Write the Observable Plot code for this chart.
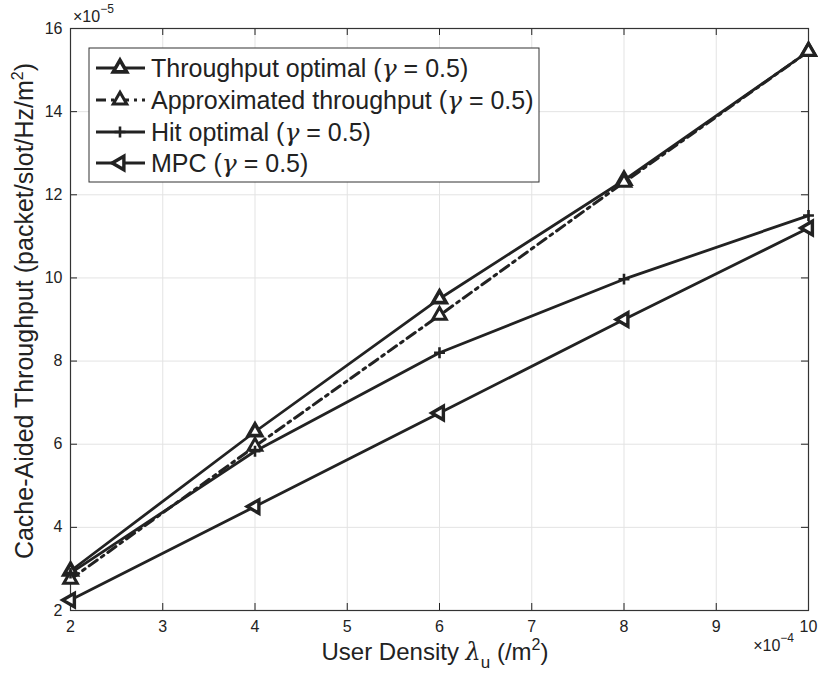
<!DOCTYPE html>
<html>
<head>
<meta charset="utf-8">
<script src="https://cdn.jsdelivr.net/npm/d3@7"></script>
<script src="https://cdn.jsdelivr.net/npm/@observablehq/plot@0.6"></script>
<style>
  html, body { margin: 0; padding: 0; background: #fff; }
  #chart svg { display: block; }
</style>
</head>
<body>
<div id="chart"></div>
<script>
// User density (×1e-4 per m²) and cache-aided throughput (×1e-5 packet/slot/Hz/m²)
const userDensity = [2, 4, 6, 8, 10];
const throughputOptimal = [2.95, 6.3, 9.5, 12.35, 15.45];
const approxThroughput = [2.75, 5.95, 9.1, 12.3, 15.45];
const hitOptimal = [2.9, 5.83, 8.2, 9.97, 11.5];
const mpc = [2.25, 4.5, 6.75, 9.0, 11.2];

const seriesNames = ["Throughput optimal", "Approximated throughput", "Hit optimal", "MPC"];
const xTicks = [2, 3, 4, 5, 6, 7, 8, 9, 10];
const yTicks = [2, 4, 6, 8, 10, 12, 14, 16];

const ink = "#222";
const font = "'Liberation Sans', Arial, Helvetica, sans-serif";
const mathFont = "'DejaVu Serif', 'Liberation Serif', serif";
const dashDot = "10,5,3,5";

// Triangle pointing left, same area convention as d3.symbolTriangle
const triangleLeft = {
  draw(context, size) {
    const s3 = Math.sqrt(3);
    const y = -Math.sqrt(size / (s3 * 3));
    context.moveTo(y * 2, 0);
    context.lineTo(-y, -s3 * y);
    context.lineTo(-y, s3 * y);
    context.closePath();
  }
};

const seriesValues = [throughputOptimal, approxThroughput, hitOptimal, mpc];
const rows = seriesValues.flatMap((vals, i) =>
  vals.map((v, j) => ({series: seriesNames[i], x: userDensity[j], y: v}))
);
const pick = (name) => rows.filter(d => d.series === name);

const W = 818, H = 686;
const mL = 70, mR = 10, mT = 28, mB = 76;
const frameW = W - mL - mR, frameH = H - mT - mB;
const tickLen = 7;

const plot = Plot.plot({
  width: W,
  height: H,
  marginLeft: mL,
  marginRight: mR,
  marginTop: mT,
  marginBottom: mB,
  style: {fontFamily: font, fontSize: "16px", color: ink, background: "#fff"},
  x: {domain: [2, 10], ticks: xTicks, label: null},
  y: {domain: [2, 16], ticks: yTicks, label: null},
  marks: [
    Plot.gridX(xTicks, {stroke: "#e3e3e3", strokeOpacity: 1, strokeWidth: 1}),
    Plot.gridY(yTicks, {stroke: "#e3e3e3", strokeOpacity: 1, strokeWidth: 1}),
    // inward ticks on all four sides
    Plot.tickX(xTicks, {x: d => d, stroke: ink, insetTop: frameH - tickLen}),
    Plot.tickX(xTicks, {x: d => d, stroke: ink, insetBottom: frameH - tickLen}),
    Plot.tickY(yTicks, {y: d => d, stroke: ink, insetRight: frameW - tickLen}),
    Plot.tickY(yTicks, {y: d => d, stroke: ink, insetLeft: frameW - tickLen}),
    Plot.axisX(xTicks, {tickSize: 0, tickPadding: 10, fontSize: 16, fill: ink, label: null}),
    Plot.axisY(yTicks, {tickSize: 0, tickPadding: 8, fontSize: 16, fill: ink, label: null}),
    Plot.frame({stroke: "#333", strokeWidth: 1.2}),
    Plot.line(pick("Throughput optimal"), {x: "x", y: "y", stroke: ink, strokeWidth: 2.8}),
    Plot.line(pick("Approximated throughput"), {x: "x", y: "y", stroke: ink, strokeWidth: 3, strokeDasharray: dashDot}),
    Plot.line(pick("Hit optimal"), {x: "x", y: "y", stroke: ink, strokeWidth: 2.8}),
    Plot.line(pick("MPC"), {x: "x", y: "y", stroke: ink, strokeWidth: 2.8}),
    Plot.dot(pick("Throughput optimal"), {x: "x", y: "y", symbol: "triangle", r: 5, fill: "#fff", stroke: ink, strokeWidth: 3.6}),
    Plot.dot(pick("Approximated throughput"), {x: "x", y: "y", symbol: "triangle", r: 5, fill: "#fff", stroke: ink, strokeWidth: 3}),
    Plot.dot(pick("Hit optimal"), {x: "x", y: "y", symbol: "plus", r: 3.6, stroke: ink, strokeWidth: 2.6}),
    Plot.dot(pick("MPC"), {x: "x", y: "y", symbol: triangleLeft, r: 5, fill: "#fff", stroke: ink, strokeWidth: 3.4})
  ]
});

document.getElementById("chart").appendChild(plot);

const svg = d3.select(plot);
const labelSize = 25;

// Axis labels with sub/superscripts
const xl = svg.append("text")
  .attr("x", 435).attr("y", 660)
  .attr("text-anchor", "middle")
  .attr("font-family", font).attr("font-size", 24).attr("fill", ink);
xl.append("tspan").text("User Density ");
xl.append("tspan").attr("font-family", mathFont).attr("font-style", "italic").text("λ");
xl.append("tspan").attr("font-size", 17).attr("dy", 8).text("u");
xl.append("tspan").attr("dy", -8).text(" (/m");
xl.append("tspan").attr("font-size", 16).attr("dy", -10).text("2");
xl.append("tspan").attr("dy", 10).text(")");

const yl = svg.append("text")
  .attr("transform", "translate(33,311) rotate(-90)")
  .attr("text-anchor", "middle")
  .attr("font-family", font).attr("font-size", labelSize).attr("fill", ink);
yl.append("tspan").text("Cache-Aided Throughput (packet/slot/Hz/m");
yl.append("tspan").attr("font-size", 16).attr("dy", -10).text("2");
yl.append("tspan").attr("dy", 10).text(")");

// Exponent annotations
const ey = svg.append("text")
  .attr("x", 73).attr("y", 22).attr("text-anchor", "start")
  .attr("font-family", font).attr("font-size", 16).attr("fill", ink);
ey.append("tspan").text("×10");
ey.append("tspan").attr("font-size", 12).attr("dy", -9).text("−5");

const ex = svg.append("text")
  .attr("x", 794).attr("y", 651).attr("text-anchor", "end")
  .attr("font-family", font).attr("font-size", 16).attr("fill", ink);
ex.append("tspan").text("×10");
ex.append("tspan").attr("font-size", 12).attr("dy", -9).text("−4");

// Legend
const legend = svg.append("g");
legend.append("rect")
  .attr("x", 89).attr("y", 48).attr("width", 450).attr("height", 134)
  .attr("fill", "#fff").attr("stroke", "#333").attr("stroke-width", 1);

const legendItems = [
  {name: seriesNames[0], dash: null, symbol: d3.symbolTriangle, sw: 3.6, fill: "#fff", size: 25},
  {name: seriesNames[1], dash: dashDot, symbol: d3.symbolTriangle, sw: 3, fill: "#fff", size: 25},
  {name: seriesNames[2], dash: null, symbol: d3.symbolPlus, sw: 2.6, fill: "none", size: 13},
  {name: seriesNames[3], dash: null, symbol: triangleLeft, sw: 3.4, fill: "#fff", size: 25}
];
const rowY = [68, 100, 132, 163];
legendItems.forEach((item, i) => {
  const cy = rowY[i];
  legend.append("line")
    .attr("x1", 96).attr("x2", 145).attr("y1", cy).attr("y2", cy)
    .attr("stroke", ink).attr("stroke-width", 2.8)
    .attr("stroke-dasharray", item.dash);
  legend.append("path")
    .attr("transform", `translate(120,${cy})`)
    .attr("d", d3.symbol(item.symbol, Math.PI * item.size)())
    .attr("fill", item.fill).attr("stroke", ink).attr("stroke-width", item.sw);
  const t = legend.append("text")
    .attr("x", 151).attr("y", cy + 9)
    .attr("text-anchor", "start")
    .attr("font-family", font).attr("font-size", labelSize).attr("fill", ink);
  t.append("tspan").text(item.name + " (");
  t.append("tspan").attr("font-family", mathFont).attr("font-style", "italic").text("γ");
  t.append("tspan").text(" = 0.5)");
});
</script>
</body>
</html>
